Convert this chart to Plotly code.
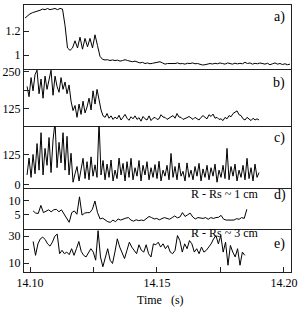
import numpy as np
import plotly.graph_objects as go

# ---------------- data ----------------
t_a = (14.0980, 14.2024)
a_vals = [1.31, 1.33, 1.345, 1.355, 1.36, 1.37, 1.375, 1.385, 1.38, 1.39, 1.38, 1.385, 1.39, 1.38,
          1.39, 1.385, 1.25, 1.06, 1.04, 1.06, 1.12, 1.06, 1.15, 1.05, 1.14, 1.07, 1.14, 1.06, 1.17,
          1.08, 0.99, 0.965, 0.96, 0.962, 0.955, 0.96, 0.955, 0.958, 0.95, 0.955, 0.962, 0.955, 0.95,
          0.945, 0.95, 0.94, 0.935, 0.94, 0.93, 0.935, 0.928, 0.932, 0.935, 0.94, 0.945, 0.935, 0.925,
          0.93, 0.928, 0.932, 0.93, 0.935, 0.928, 0.93, 0.925, 0.932, 0.93, 0.935, 0.928, 0.93, 0.922,
          0.918, 0.92, 0.925, 0.93, 0.926, 0.932, 0.928, 0.935, 0.93, 0.925, 0.935, 0.93, 0.925, 0.933,
          0.927, 0.932, 0.928, 0.94, 0.93, 0.935, 0.925, 0.932, 0.928, 0.935, 0.93, 0.925, 0.932, 0.92,
          0.928, 0.935, 0.925, 0.93, 0.922, 0.928, 0.92, 0.925]

t_b = (14.0988, 14.1902)
b_vals = [200, 165, 230, 185, 240, 255, 175, 225, 160, 235, 190, 220, 255, 170, 235, 200, 180, 230,
          190, 215, 175, 205,
          150, 118, 135, 95, 140, 105, 150, 110, 130, 160,
          120, 185, 140, 190, 150, 120,
          100, 95, 108, 92, 100, 88, 96, 90, 102, 86, 95, 105, 92, 85, 97, 90, 100, 88, 94, 82, 98,
          90, 86, 100,
          84, 92, 95, 88, 90, 104, 96, 95, 88, 92, 98, 101, 92, 108, 96, 95, 88, 90, 94, 98, 92, 88,
          95, 90, 86, 95, 101, 95, 90, 104, 98, 106, 92, 95, 88, 90, 84, 95, 90, 101, 97, 108, 112,
          117, 104, 101, 90, 86, 95, 90, 84, 92, 86, 90, 86]

t_c = (14.0988, 14.1902)
c_vals = [40, 110, 30, 125, 45, 170, 60, 215, 40, 150, 80, 195, 50, 185, 260, 70, 175, 90, 215, 60,
          200, 40, 130,
          10, 45, 75, 15, 60, 109, 25, 95, 20, 115, 35, 82, 30, 260, 40, 100, 20, 85, 30, 102, 15, 60,
          25, 110, 40, 88, 15, 95, 30, 109, 20, 70, 35, 100, 15, 80, 40, 95, 20, 70, 30, 83, 25, 97,
          15, 60, 35, 80, 20, 129, 30, 75, 20, 90, 35, 55, 15, 90, 30, 60, 20, 75, 35, 88, 15, 65, 30,
          80, 20, 70, 35, 85, 10, 60, 30, 80, 25, 150, 20, 75, 35, 85, 15, 60, 30, 80, 20, 109, 25,
          70, 15, 85, 30, 50]

t_d = (14.1012, 14.1854)
d_vals = [6.4, 5.6, 5.5, 8.4, 5.8, 6.4, 6.8, 6.1, 6.8, 7.0, 6.1, 6.8, 5.2, 4.0, 2.3, 5.8, 6.4, 5.2,
          11.5, 4.9, 5.6, 5.8, 5.8, 7.0, 10.0, 5.8, 3.5, 3.8, 3.2, 2.5, 2.3, 3.1, 2.5, 3.5, 3.1, 3.5,
          3.8, 4.0, 3.1, 2.7, 3.2, 2.9, 3.1, 2.9, 3.5, 4.4, 4.0, 3.5, 3.7,
          3.2, 3.6, 4.0, 3.7, 3.4, 4.0, 4.6, 3.9, 4.2, 5.8, 4.4, 5.0, 5.6, 4.2, 3.5, 4.0, 3.8, 3.7,
          4.0, 3.4, 4.0, 3.7, 4.0, 4.1, 4.8, 3.4, 3.1, 3.1, 3.1, 3.1, 3.6, 3.4, 4.0, 3.7, 7.0]

t_e = (14.1012, 14.1846)
e_vals = [26.0, 15.8, 24.3, 28.0, 29.2, 27.5, 24.3, 22.6, 25.5, 29.9, 31.5, 17.0, 19.5, 17.0, 18.2,
          16.3, 20.7, 15.8, 20.7, 26.0, 18.7, 15.8, 14.6, 18.2, 20.7, 18.2, 12.2, 34.0, 14.6, 7.4,
          13.4, 20.7, 12.2, 9.8, 18.2, 28.0, 21.9, 18.2, 13.4, 19.5, 25.5, 21.9, 19.5, 17.0, 23.6,
          19.5, 18.2, 23.6, 17.0, 14.6, 24.3, 23.6, 25.5,
          21.9, 24.3, 20.7, 23.1, 18.2, 17.0, 19.5, 30.4, 26.7, 18.2, 24.3, 20.7, 26.7, 24.3, 18.2,
          20.7, 17.0, 21.9, 18.2, 19.5, 21.9, 24.3, 27.9, 30.4, 24.3, 30.4, 18.2, 25.5, 8.5, 23.1,
          18.2, 14.6, 20.7, 8.5, 18.2, 15.8]

panels = [
    ("a", t_a, a_vals, [0.884, 1.419], [1.0, 1.2], ["1", "1.2"]),
    ("b", t_b, b_vals, [65, 259], [125, 187.5, 250], ["125", "", "250"]),
    ("c", t_c, c_vals, [-15, 242], [0, 125], ["0", "125"]),
    ("d", t_d, d_vals, [0, 14.6], [5, 10], ["5", "10"]),
    ("e", t_e, e_vals, [3.5, 35.5], [10, 20, 30], ["10", "", "30"]),
]
H = 271.0
domains = [[206 / H, 1.0], [148 / H, 206 / H], [85 / H, 148 / H], [44 / H, 85 / H], [0.0, 44 / H]]

x_range = [14.0976, 14.2028]
x_tickvals = [14.10, 14.125, 14.15, 14.175, 14.20]
x_ticktext = ["14.10", "", "14.15", "", "14.20"]

FONT = "Liberation Serif, Times New Roman, serif"
LINE = "#222"

fig = go.Figure()
layout = dict(
    width=300, height=309,
    margin=dict(l=24, r=9, t=1, b=37),
    paper_bgcolor="white", plot_bgcolor="white",
    showlegend=False,
    font=dict(family=FONT, size=12, color="black"),
)

for i, (name, tr, vals, yr, tv, tt) in enumerate(panels):
    n = i + 1
    xs = np.linspace(tr[0], tr[1], len(vals))
    fig.add_trace(go.Scatter(x=xs, y=vals, mode="lines",
                             line=dict(color="black", width=1),
                             xaxis="x" if n == 1 else f"x{n}",
                             yaxis="y" if n == 1 else f"y{n}"))
    xa = dict(domain=[0, 1], range=x_range, anchor="y" if n == 1 else f"y{n}",
              showline=True, mirror=(n == 1), linecolor=LINE, linewidth=1,
              showgrid=False, zeroline=False, fixedrange=True)
    if n == 5:
        xa.update(tickmode="array", tickvals=x_tickvals, ticktext=x_ticktext,
                  ticks="inside", ticklen=5, tickcolor=LINE, tickwidth=1,
                  tickfont=dict(family=FONT, size=12, color="black"))
    else:
        xa.update(showticklabels=False, ticks="")
    if n > 1:
        xa["matches"] = "x"
    ya = dict(domain=domains[i], range=yr, anchor="x" if n == 1 else f"x{n}",
              showline=True, mirror=True, linecolor=LINE, linewidth=1,
              showgrid=False, zeroline=False,
              tickmode="array", tickvals=tv, ticktext=tt,
              ticks="inside", ticklen=5, tickcolor=LINE, tickwidth=1,
              tickfont=dict(family=FONT, size=12, color="black"))
    layout["xaxis" if n == 1 else f"xaxis{n}"] = xa
    layout["yaxis" if n == 1 else f"yaxis{n}"] = ya

ann = []
def A(text, x, y, size=13, xanchor="center"):
    ann.append(dict(text=text, x=x, y=y, xref="paper", yref="paper", showarrow=False,
                    xanchor=xanchor, yanchor="middle",
                    font=dict(family=FONT, size=size, color="black")))

A("a)", 0.9588, 0.9557, 14)
A("b)", 0.9550, 0.7085, 14)
A("c)", 0.9588, 0.5018, 14)
A("d)", 0.9588, 0.2878, 14)
A("e)", 0.9588, 0.1040, 14)
A("R - Rs ~ 1 cm", 0.7528, 0.2915, 12)
A("R - Rs ~ 3 cm", 0.7528, 0.1476, 12)
A("Time   (s)", 0.513, -0.1033, 12)
layout["annotations"] = ann

fig.update_layout(**layout)
fig.write_html("out.html")
